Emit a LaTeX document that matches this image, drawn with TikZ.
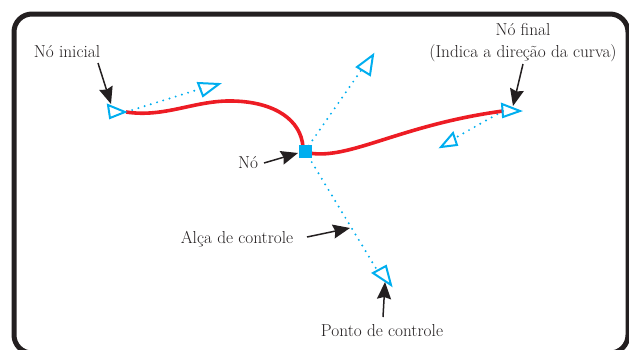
\documentclass[tikz,border=0pt]{standalone}
\usepackage{fontspec}
\usetikzlibrary{arrows.meta}
\definecolor{inkblack}{RGB}{35,31,32}
\definecolor{pcyan}{RGB}{0,174,239}
\definecolor{pred}{RGB}{237,28,36}
\begin{document}
\begin{tikzpicture}[x=1pt,y=-1pt,
  lbl/.style={font=\fontsize{17.3}{22}\selectfont\addfontfeatures{FakeBold=0.35}, text=inkblack, inner sep=0pt, anchor=base},
  pointer/.style={draw=inkblack, line width=1.5pt, -{Stealth[length=17pt,width=14pt,inset=2pt]}},
  handle/.style={draw=pcyan, line width=2.2pt, line cap=round, dash pattern=on 0pt off 6.5pt},
  ctrl/.style={draw=pcyan, line width=2pt, line join=miter},
  curve/.style={draw=pred, line width=3.6pt}]
\useasboundingbox (0,0) rectangle (629,349);
\clip (0,0) rectangle (629,349);
% frame
\draw[inkblack, line width=5pt, rounded corners=18pt] (14,14) rectangle (628,353);
% nodes and control points
\coordinate (start) at (126,112);
\coordinate (cp1) at (203,88);
\coordinate (mid) at (305,151);
\coordinate (cpup) at (362,69);
\coordinate (cpdown) at (377,270);
\coordinate (endn) at (503,111);
\coordinate (cp4) at (455,138);
% handles
\draw[handle] (start) -- (cp1);
\draw[handle] (mid) -- (cpup);
\draw[handle] (mid) -- (cpdown);
\draw[handle] (endn) -- (cp4);
% curve
\draw[curve] (start) .. controls (165,118) and (195,100) .. (233,101)
  .. controls (275,102) and (301,120) .. (303,147);
\draw[curve] (309,153) .. controls (350,160) and (400,125) .. (endn);
% control point triangles
\draw[ctrl] (198,83) -- (219,84) -- (203,96) -- cycle;
\draw[ctrl] (357,67) -- (373,55) -- (370,75) -- cycle;
\draw[ctrl] (373,273) -- (386,266) -- (391,285) -- cycle;
\draw[ctrl] (453,133) -- (457,145) -- (441,147) -- cycle;
\draw[ctrl] (108,105) -- (125,112) -- (110,118) -- cycle;
\draw[ctrl] (502,104) -- (520,111) -- (503,117) -- cycle;
% middle node square
\node[fill=pcyan, minimum size=13pt, inner sep=0pt] (sq) at (mid) {};
% labels
\node[lbl] (tinit) at (67,57) {Nó inicial};
\node[lbl] (tno) at (248,168) {Nó};
\node[lbl] (tfinal) at (523,35) {Nó final};
\node[lbl] (tdir) at (523,57) {(Indica a direção da curva)};
\node[lbl] (talca) at (237,243) {Alça de controle};
\node[lbl] (tponto) at (382,336) {Ponto de controle};
% arrow endpoints
\coordinate (a1s) at (98,63);   \coordinate (a1e) at (111,104);
\coordinate (a2s) at (264,163); \coordinate (a2e) at (298,153);
\coordinate (a3s) at (523,64);  \coordinate (a3e) at (513,106);
\coordinate (a4s) at (307,237); \coordinate (a4e) at (350,228);
\coordinate (a5s) at (383,317); \coordinate (a5e) at (385,282);
\draw[pointer] (a1s) -- (a1e);
\draw[pointer] (a2s) -- (a2e);
\draw[pointer] (a3s) -- (a3e);
\draw[pointer] (a4s) -- (a4e);
\draw[pointer] (a5s) -- (a5e);
\end{tikzpicture}
\end{document}
